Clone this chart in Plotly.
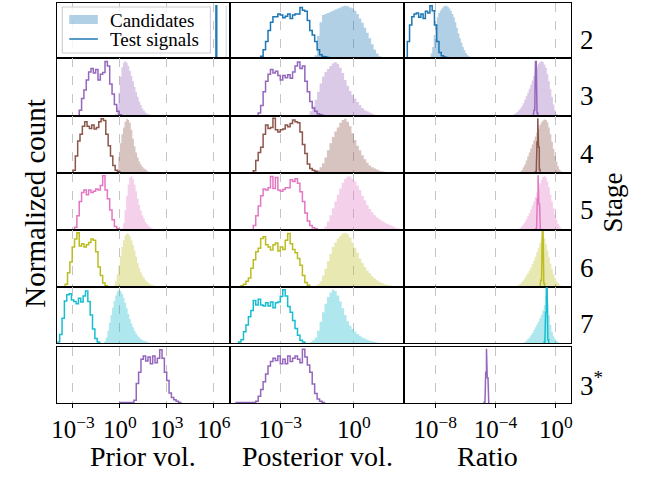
import plotly.graph_objects as go

# ---------------------------------------------------------------------------
# Histogram data: (log10 of first bin edge, log10 bin width, normalized counts)
# ---------------------------------------------------------------------------
stages = ["2", "3", "4", "5", "6", "7", "3*"]
stage_colors = ["#1f77b4", "#9467bd", "#8c564b", "#e377c2", "#bcbd22", "#17becf", "#9467bd"]
column_titles = ["Prior vol.", "Posterior vol.", "Ratio"]
column_log_limits = [(-4, 7), (-5, 2), (-10, 1)]
column_tick_exponents = [[-3, 0, 3, 6], [-3, 0], [-8, -4, 0]]

# Stage 2
prior_test_s2 = (6.15, 0.05, [0.95])
prior_cand_s2 = (6.78, 0.05, [0.95])
post_test_s2 = (-3.8, 0.1, [0.03, 0.15, 0.3, 0.5, 0.65, 0.75, 0.75, 0.8, 0.78, 0.73, 0.76, 0.8, 0.72, 0.78,
                            0.8, 0.8, 0.92, 0.87, 0.85, 0.68, 0.5, 0.42, 0.3, 0.15, 0.06, 0.03, 0.02, 0.01])
post_cand_s2 = (-1.6, 0.1, [0.05, 0.4, 0.65, 0.78, 0.8, 0.82, 0.84, 0.86, 0.88, 0.9, 0.92, 0.94, 0.95, 0.94,
                            0.92, 0.9, 0.86, 0.8, 0.72, 0.64, 0.55, 0.46, 0.36, 0.25, 0.15, 0.08, 0.03, 0.01])
ratio_test_s2 = (-9.85, 0.15, [0.3, 0.6, 0.75, 0.8, 0.82, 0.74, 0.8, 0.72, 0.85, 0.82, 0.95, 0.86, 0.6, 0.3,
                               0.1, 0.04, 0.02, 0.01])
ratio_cand_s2 = (-8.4, 0.1, [0.02, 0.08, 0.2, 0.42, 0.62, 0.74, 0.82, 0.86, 0.9, 0.93, 0.95, 0.95, 0.93, 0.9,
                             0.86, 0.8, 0.74, 0.65, 0.55, 0.45, 0.36, 0.28, 0.2, 0.14, 0.09, 0.05, 0.03, 0.01])

# Stage 3
prior_test_s3 = (-2.6, 0.15, [0.1, 0.3, 0.45, 0.62, 0.76, 0.82, 0.74, 0.8, 0.62, 0.72, 0.75, 0.94, 0.86, 0.55,
                              0.38, 0.2, 0.08, 0.02])
prior_cand_s3 = (-0.3, 0.1, [0.03, 0.15, 0.4, 0.68, 0.84, 0.92, 0.95, 0.92, 0.86, 0.78, 0.69, 0.6, 0.5, 0.41,
                             0.33, 0.25, 0.19, 0.13, 0.09, 0.06, 0.04, 0.03, 0.02, 0.01])
post_test_s3 = (-3.9, 0.1, [0.05, 0.18, 0.42, 0.6, 0.72, 0.8, 0.74, 0.77, 0.7, 0.62, 0.7, 0.66, 0.71, 0.65,
                            0.76, 0.86, 0.93, 0.82, 0.86, 0.6, 0.42, 0.25, 0.14, 0.08, 0.04, 0.02, 0.01])
post_cand_s3 = (-1.9, 0.1, [0.02, 0.08, 0.17, 0.28, 0.42, 0.56, 0.68, 0.76, 0.81, 0.86, 0.91, 0.93, 0.9, 0.83,
                            0.74, 0.62, 0.52, 0.43, 0.36, 0.3, 0.24, 0.19, 0.14, 0.1, 0.08, 0.06, 0.04, 0.02,
                            0.01])
ratio_test_s3 = (-1.5, 0.05, [0.02, 0.1, 0.5, 0.94, 0.4, 0.05])
ratio_cand_s3 = (-2.9, 0.1, [0.01, 0.03, 0.05, 0.07, 0.1, 0.13, 0.17, 0.22, 0.28, 0.34, 0.4, 0.47, 0.54, 0.61,
                             0.69, 0.77, 0.84, 0.9, 0.93, 0.95, 0.93, 0.89, 0.83, 0.72, 0.6, 0.46, 0.33, 0.2,
                             0.1, 0.03])

# Stage 4
prior_test_s4 = (-3.0, 0.15, [0.05, 0.3, 0.56, 0.68, 0.82, 0.9, 0.82, 0.78, 0.84, 0.77, 0.8, 0.9, 0.95, 0.92,
                              0.68, 0.48, 0.3, 0.13, 0.05, 0.02])
prior_cand_s4 = (-0.2, 0.1, [0.05, 0.28, 0.52, 0.68, 0.8, 0.9, 0.95, 0.93, 0.88, 0.76, 0.6, 0.47, 0.36, 0.27,
                             0.2, 0.15, 0.11, 0.08, 0.06, 0.04, 0.02, 0.01])
post_test_s4 = (-4.1, 0.1, [0.04, 0.22, 0.36, 0.45, 0.68, 0.84, 0.78, 0.8, 0.96, 0.76, 0.72, 0.76, 0.77, 0.84,
                            0.81, 0.87, 0.93, 0.9, 0.88, 0.72, 0.5, 0.34, 0.16, 0.08, 0.05, 0.03, 0.01])
post_cand_s4 = (-1.6, 0.1, [0.02, 0.05, 0.1, 0.17, 0.27, 0.4, 0.52, 0.63, 0.73, 0.8, 0.88, 0.93, 0.95, 0.9,
                            0.82, 0.7, 0.58, 0.48, 0.4, 0.31, 0.24, 0.18, 0.13, 0.1, 0.08, 0.06, 0.04, 0.03,
                            0.02, 0.01])
ratio_test_s4 = (-1.35, 0.05, [0.02, 0.12, 0.55, 0.96, 0.45, 0.06])
ratio_cand_s4 = (-2.4, 0.1, [0.02, 0.05, 0.1, 0.15, 0.22, 0.29, 0.36, 0.43, 0.5, 0.57, 0.64, 0.71, 0.78, 0.84,
                             0.89, 0.92, 0.94, 0.93, 0.89, 0.8, 0.68, 0.55, 0.42, 0.3, 0.2, 0.12, 0.06, 0.03,
                             0.01])

# Stage 5
prior_test_s5 = (-2.9, 0.15, [0.05, 0.25, 0.5, 0.66, 0.7, 0.62, 0.7, 0.66, 0.68, 0.72, 0.7, 0.78, 0.95, 0.7,
                              0.55, 0.35, 0.18, 0.06, 0.02])
prior_cand_s5 = (0.1, 0.1, [0.03, 0.12, 0.35, 0.6, 0.8, 0.92, 0.95, 0.9, 0.8, 0.68, 0.55, 0.44, 0.34, 0.26,
                            0.2, 0.14, 0.1, 0.07, 0.05, 0.03, 0.02, 0.01])
post_test_s5 = (-4.1, 0.1, [0.08, 0.25, 0.42, 0.6, 0.72, 0.7, 0.74, 0.94, 0.73, 0.92, 0.7, 0.68, 0.71, 0.74,
                            0.74, 0.88, 0.85, 0.9, 0.82, 0.67, 0.5, 0.3, 0.16, 0.08, 0.04, 0.02])
post_cand_s5 = (-1.3, 0.1, [0.02, 0.06, 0.15, 0.26, 0.38, 0.5, 0.62, 0.73, 0.83, 0.9, 0.94, 0.94, 0.9, 0.85,
                            0.78, 0.7, 0.6, 0.52, 0.44, 0.37, 0.31, 0.26, 0.22, 0.19, 0.16, 0.13, 0.11, 0.09,
                            0.07, 0.05, 0.03, 0.02])
ratio_test_s5 = (-1.33, 0.05, [0.02, 0.12, 0.55, 0.96, 0.45, 0.06])
ratio_cand_s5 = (-2.5, 0.1, [0.02, 0.04, 0.07, 0.1, 0.14, 0.19, 0.24, 0.3, 0.36, 0.43, 0.5, 0.58, 0.66, 0.74,
                             0.82, 0.88, 0.93, 0.95, 0.92, 0.85, 0.75, 0.62, 0.5, 0.38, 0.27, 0.18, 0.11, 0.06,
                             0.03, 0.01])

# Stage 6
prior_test_s6 = (-3.5, 0.15, [0.05, 0.25, 0.44, 0.7, 0.84, 0.95, 0.72, 0.76, 0.7, 0.74, 0.78, 0.84, 0.82, 0.62,
                              0.35, 0.2, 0.07, 0.02])
prior_cand_s6 = (-0.4, 0.1, [0.03, 0.1, 0.22, 0.38, 0.55, 0.7, 0.82, 0.9, 0.94, 0.93, 0.89, 0.82, 0.74, 0.64,
                             0.53, 0.42, 0.33, 0.26, 0.2, 0.16, 0.12, 0.09, 0.07, 0.05, 0.04, 0.03, 0.02, 0.01])
post_test_s6 = (-4.6, 0.1, [0.02, 0.05, 0.1, 0.16, 0.33, 0.48, 0.62, 0.68, 0.85, 0.88, 0.74, 0.7, 0.65, 0.74,
                            0.77, 0.63, 0.7, 0.66, 0.82, 0.94, 0.76, 0.66, 0.6, 0.5, 0.38, 0.2, 0.08, 0.03])
post_cand_s6 = (-1.6, 0.1, [0.02, 0.05, 0.1, 0.2, 0.32, 0.45, 0.58, 0.7, 0.78, 0.85, 0.9, 0.94, 0.95, 0.93,
                            0.87, 0.78, 0.69, 0.6, 0.5, 0.42, 0.35, 0.29, 0.24, 0.19, 0.15, 0.12, 0.09, 0.07,
                            0.05, 0.04, 0.03, 0.02, 0.01])
ratio_test_s6 = (-1.05, 0.05, [0.02, 0.12, 0.55, 0.97, 0.45, 0.06])
ratio_cand_s6 = (-2.6, 0.1, [0.02, 0.04, 0.06, 0.09, 0.12, 0.16, 0.2, 0.24, 0.29, 0.34, 0.4, 0.46, 0.53, 0.61,
                             0.69, 0.77, 0.85, 0.9, 0.85, 0.76, 0.64, 0.52, 0.41, 0.31, 0.23, 0.16, 0.1, 0.07,
                             0.04, 0.02, 0.01])

# Stage 7
prior_test_s7 = (-4.0, 0.15, [0.02, 0.15, 0.44, 0.75, 0.86, 0.88, 0.77, 0.74, 0.7, 0.8, 0.73, 0.84, 0.93, 0.74,
                              0.5, 0.25, 0.08, 0.02])
prior_cand_s7 = (-1.0, 0.1, [0.03, 0.1, 0.22, 0.36, 0.5, 0.63, 0.75, 0.85, 0.92, 0.95, 0.93, 0.88, 0.81, 0.72,
                             0.62, 0.52, 0.43, 0.35, 0.28, 0.22, 0.17, 0.13, 0.1, 0.07, 0.05, 0.04, 0.03, 0.02,
                             0.01])
post_test_s7 = (-4.7, 0.1, [0.02, 0.06, 0.2, 0.32, 0.47, 0.58, 0.76, 0.68, 0.78, 0.68, 0.66, 0.72, 0.66, 0.73,
                            0.63, 0.72, 0.73, 0.83, 0.95, 0.84, 0.65, 0.55, 0.4, 0.26, 0.14, 0.05, 0.02])
post_cand_s7 = (-1.8, 0.1, [0.02, 0.05, 0.1, 0.22, 0.38, 0.55, 0.7, 0.82, 0.9, 0.95, 0.93, 0.85, 0.74, 0.62,
                            0.5, 0.39, 0.31, 0.25, 0.2, 0.16, 0.13, 0.1, 0.08, 0.06, 0.04, 0.03, 0.02, 0.01])
ratio_test_s7 = (-0.78, 0.05, [0.02, 0.12, 0.55, 0.98, 0.45, 0.06])
ratio_cand_s7 = (-2.1, 0.1, [0.02, 0.04, 0.07, 0.1, 0.14, 0.18, 0.23, 0.28, 0.33, 0.38, 0.44, 0.5, 0.58, 0.68,
                             0.85, 0.72, 0.5, 0.32, 0.2, 0.12, 0.07, 0.04, 0.02])

# Stage 3* (test signals only)
prior_test_s3b = (0.0, 0.15, [0.01, 0.01, 0.01, 0.01, 0.01, 0.01, 0.05, 0.35, 0.55, 0.78, 0.84, 0.75, 0.82,
                              0.7, 0.84, 0.72, 0.8, 0.95, 0.8, 0.55, 0.4, 0.18, 0.1, 0.06, 0.03, 0.01])
post_test_s3b = (-4.8, 0.1, [0.01, 0.01, 0.01, 0.01, 0.01, 0.01, 0.01, 0.01, 0.03, 0.12, 0.24, 0.38, 0.52,
                             0.66, 0.74, 0.8, 0.76, 0.84, 0.7, 0.78, 0.7, 0.84, 0.74, 0.8, 0.84, 0.78, 0.72,
                             0.96, 0.82, 0.68, 0.55, 0.34, 0.17, 0.07, 0.03, 0.01])
ratio_test_s3b = (-4.75, 0.05, [0.02, 0.12, 0.55, 0.97, 0.45, 0.06])

test_hists = [
    [prior_test_s2, post_test_s2, ratio_test_s2],
    [prior_test_s3, post_test_s3, ratio_test_s3],
    [prior_test_s4, post_test_s4, ratio_test_s4],
    [prior_test_s5, post_test_s5, ratio_test_s5],
    [prior_test_s6, post_test_s6, ratio_test_s6],
    [prior_test_s7, post_test_s7, ratio_test_s7],
    [prior_test_s3b, post_test_s3b, ratio_test_s3b],
]
cand_hists = [
    [prior_cand_s2, post_cand_s2, ratio_cand_s2],
    [prior_cand_s3, post_cand_s3, ratio_cand_s3],
    [prior_cand_s4, post_cand_s4, ratio_cand_s4],
    [prior_cand_s5, post_cand_s5, ratio_cand_s5],
    [prior_cand_s6, post_cand_s6, ratio_cand_s6],
    [prior_cand_s7, post_cand_s7, ratio_cand_s7],
    None,
]

# ---------------------------------------------------------------------------
# Figure geometry (pixels)
# ---------------------------------------------------------------------------
W, H = 650, 478
col_px = [(52, 226), (228, 402), (404, 572)]
row_px = [(3, 58), (58, 116), (116, 173), (173, 230), (230, 287), (287, 343), (347, 403)]
FONT = "'Liberation Serif', 'Times New Roman', Times, serif"


def px_x(x):
    return x / W


def px_y(y):
    return 1 - y / H


def rgba(hex_color, alpha):
    h = hex_color.lstrip("#")
    r, g, b = (int(h[i:i + 2], 16) for i in (0, 2, 4))
    return f"rgba({r},{g},{b},{alpha})"


def step_outline(hist):
    """Outline of a histogram (closed down to zero at both ends) in data coordinates."""
    start, width, counts = hist
    n = len(counts)
    edges = [start + i * width for i in range(n + 1)]
    xs, ys = [10 ** edges[0]], [0.0]
    for i, c in enumerate(counts):
        xs += [10 ** edges[i], 10 ** edges[i + 1]]
        ys += [c, c]
    xs.append(10 ** edges[n])
    ys.append(0.0)
    return xs, ys


fig = go.Figure()
layout = dict(
    width=W, height=H,
    margin=dict(l=0, r=0, t=0, b=0),
    paper_bgcolor="white", plot_bgcolor="white",
    showlegend=False,
    font=dict(family=FONT, color="black"),
)

n_rows = len(stages)
for r in range(n_rows):
    color = stage_colors[r]
    for c in range(3):
        k = r * 3 + c + 1
        suffix = "" if k == 1 else str(k)
        xref, yref = "x" + suffix, "y" + suffix
        last = r == n_rows - 1
        lo, hi = column_log_limits[c]
        exps = column_tick_exponents[c]
        layout["xaxis" + suffix] = dict(
            type="log", range=[lo, hi],
            domain=[px_x(col_px[c][0]), px_x(col_px[c][1])],
            anchor=yref,
            showline=True, mirror=True, linecolor="black", linewidth=1.4,
            showgrid=True, gridcolor="#c4c4c4", gridwidth=1, griddash="dash",
            zeroline=False,
            tickmode="array",
            tickvals=[10.0 ** e for e in exps],
            ticktext=[f"10<sup>{str(e).replace('-', '−')}</sup>" for e in exps],
            showticklabels=last,
            ticks="outside" if last else "",
            ticklen=4, tickwidth=1.2, tickcolor="black",
            tickfont=dict(family=FONT, size=25, color="black"),
        )
        layout["yaxis" + suffix] = dict(
            range=[0, 1],
            domain=[px_y(row_px[r][1]), px_y(row_px[r][0])],
            anchor=xref,
            showline=True, mirror=True, linecolor="black", linewidth=1.4,
            showgrid=False, zeroline=False, showticklabels=False, ticks="",
        )

        if cand_hists[r] is not None:
            cx, cy = step_outline(cand_hists[r][c])
            fig.add_trace(go.Scatter(
                x=cx, y=cy, xaxis=xref, yaxis=yref, mode="lines",
                line=dict(width=0, color=rgba(color, 0.35)),
                fill="tozeroy", fillcolor=rgba(color, 0.35),
                hoverinfo="skip",
            ))
        tx, ty = step_outline(test_hists[r][c])
        fig.add_trace(go.Scatter(
            x=tx, y=ty, xaxis=xref, yaxis=yref, mode="lines",
            line=dict(width=1.5, color=color),
            hoverinfo="skip",
        ))

annotations = []
# Column titles
for c, title in enumerate(column_titles):
    annotations.append(dict(
        text=title, x=px_x(sum(col_px[c]) / 2), y=px_y(456),
        xref="paper", yref="paper", xanchor="center", yanchor="middle",
        showarrow=False, font=dict(family=FONT, size=28, color="black"),
    ))
# Stage labels on the right
for r, label in enumerate(stages):
    text = "3<sup>*</sup>" if label == "3*" else label
    annotations.append(dict(
        text=text, x=px_x(579), y=px_y(sum(row_px[r]) / 2 + 9),
        xref="paper", yref="paper", xanchor="left", yanchor="middle",
        showarrow=False, font=dict(family=FONT, size=27, color="black"),
    ))
annotations.append(dict(
    text="Stage", x=px_x(615), y=px_y(202), xref="paper", yref="paper",
    xanchor="center", yanchor="middle", textangle=-90, showarrow=False,
    font=dict(family=FONT, size=27, color="black"),
))
annotations.append(dict(
    text="Normalized count", x=px_x(29), y=px_y(203), xref="paper", yref="paper",
    xanchor="center", yanchor="middle", textangle=-90, showarrow=False,
    font=dict(family=FONT, size=29, color="black"),
))

# Legend drawn in the top-left panel
legend_box = (57, 7, 207, 53)
shapes = [
    dict(type="rect", xref="paper", yref="paper",
         x0=px_x(legend_box[0]), x1=px_x(legend_box[2]),
         y0=px_y(legend_box[3]), y1=px_y(legend_box[1]),
         line=dict(color="#d0d0d0", width=1.2), fillcolor="rgba(255,255,255,0.85)", layer="above"),
    dict(type="rect", xref="paper", yref="paper",
         x0=px_x(64), x1=px_x(93), y0=px_y(24), y1=px_y(15),
         line=dict(width=0), fillcolor=rgba(stage_colors[0], 0.35), layer="above"),
    dict(type="line", xref="paper", yref="paper",
         x0=px_x(64), x1=px_x(93), y0=px_y(39), y1=px_y(39),
         line=dict(color=stage_colors[0], width=1.5), layer="above"),
]
for label, yc in (("Candidates", 20), ("Test signals", 39)):
    annotations.append(dict(
        text=label, x=px_x(103), y=px_y(yc), xref="paper", yref="paper",
        xanchor="left", yanchor="middle", showarrow=False,
        font=dict(family=FONT, size=19, color="black"),
    ))

layout["annotations"] = annotations
layout["shapes"] = shapes
fig.update_layout(**layout)
fig.write_html("out.html")
